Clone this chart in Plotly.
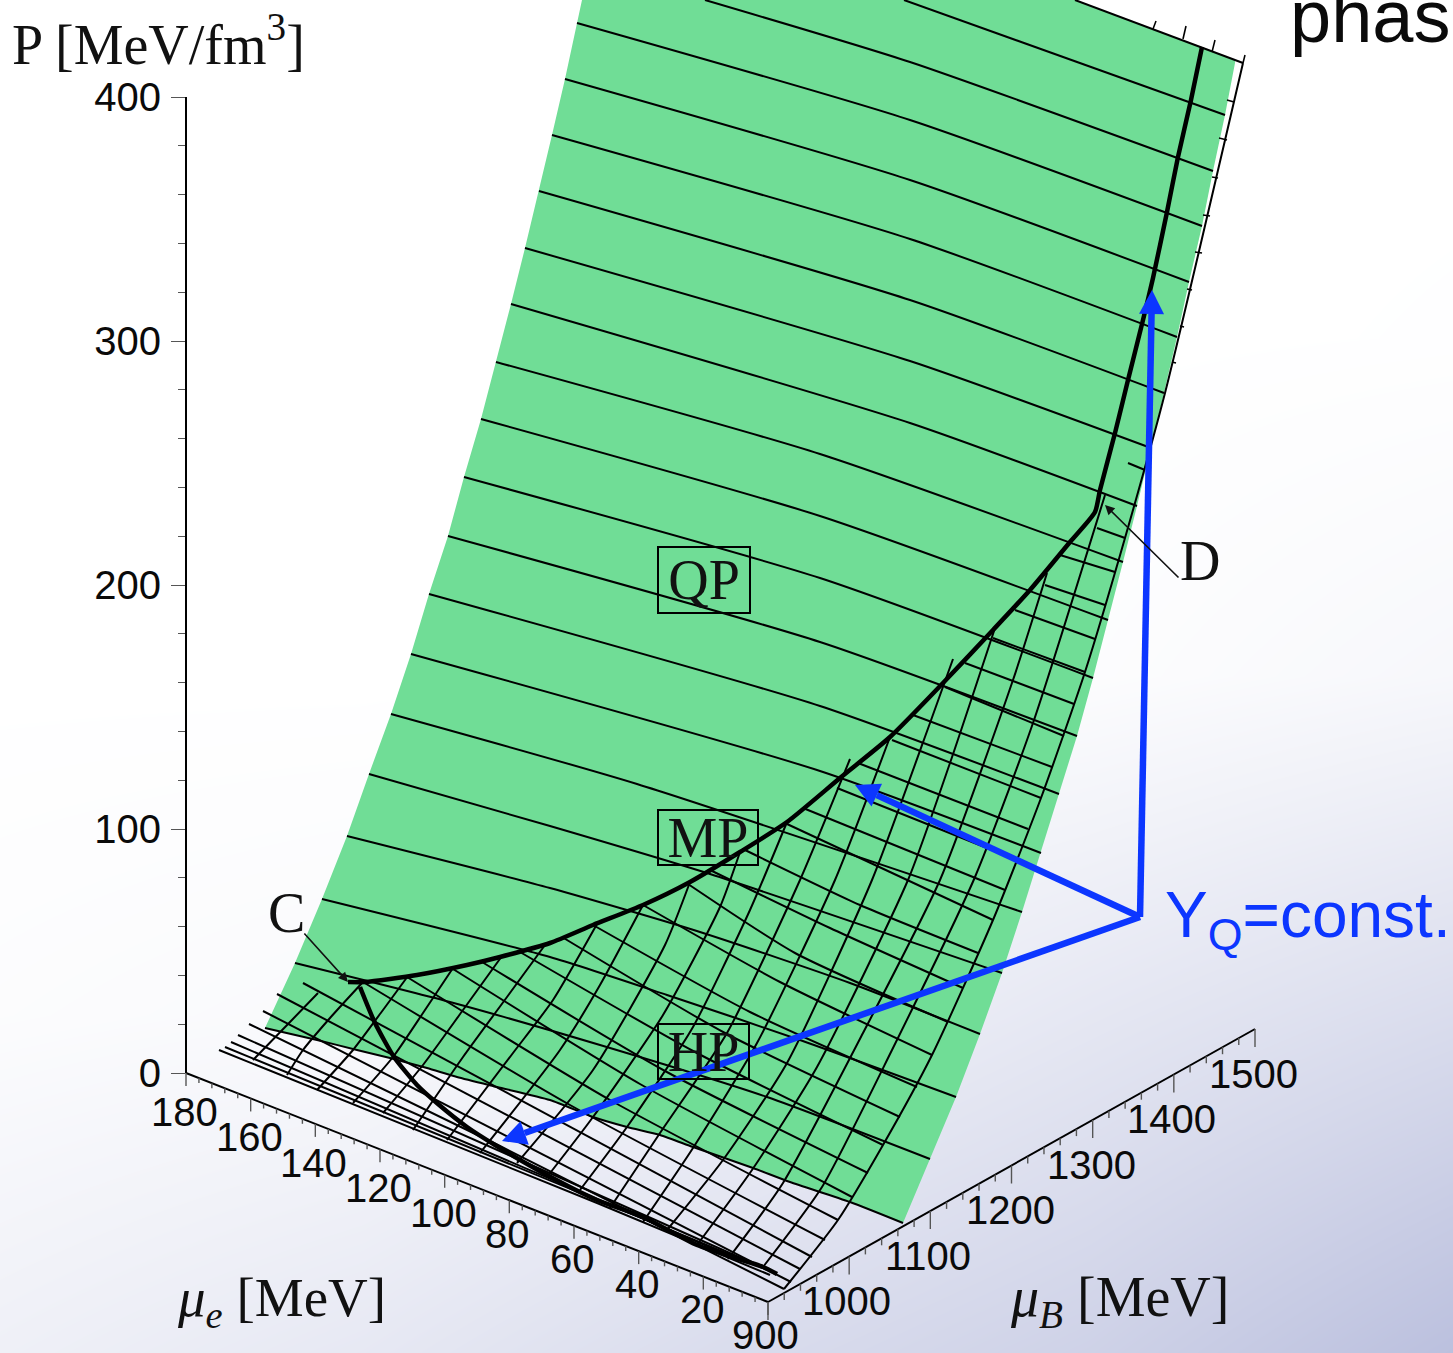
import math
import plotly.graph_objects as go

W, H = 1453, 1353
GREEN = "#70dd96"
BLUE = "#0c36ff"
SANS = "Liberation Sans"
SERIF = "Liberation Serif"

# ---- axis values ----
P_TICKS = [0, 100, 200, 300, 400]
P_MINOR = [20, 40, 60, 80, 120, 140, 160, 180, 220, 240, 260, 280, 320, 340, 360, 380]
MU_E_MAJOR = [180, 160, 140, 120, 100, 80, 60, 40, 20, 0]
MU_E_LABELS = {180: (184, 1112), 160: (249, 1137), 140: (313, 1163), 120: (378, 1188), 100: (443, 1213),
               80: (507, 1234), 60: (572, 1259), 40: (637, 1284), 20: (702, 1309)}
MU_E_MINOR = [v for v in range(4, 180, 4) if v % 20]
MU_B_MAJOR = [900, 1000, 1100, 1200, 1300, 1400, 1500]
MU_B_LABELS = {900: (765, 1335), 1000: (846, 1301), 1100: (928, 1256), 1200: (1010, 1210),
               1300: (1091, 1165), 1400: (1171, 1119), 1500: (1253, 1074)}
MU_B_MINOR = [v for v in range(920, 1500, 20) if v % 100]

# ---- surface outline ----
LEFT_EDGE = [(265, 1028), (295, 963), (322, 899), (347, 836), (369, 774), (391, 714), (411, 654), (429, 594),
             (448, 536), (464, 477), (481, 419), (496, 362), (511, 304), (525, 248), (539, 191), (552, 135),
             (565, 79), (577, 23), (582, 0)]
TOP_EDGE = [(1075, 0), (1235, 60)]
RIGHT_EDGE = [(1235, 63), (1225, 115), (1213, 171), (1202, 226), (1189, 282), (1177, 337), (1164, 393), (1151, 448),
              (1137, 506), (1123, 562), (1108, 620), (1093, 678), (1077, 736), (1059, 794), (1041, 853), (1022, 912),
              (1002, 973), (980, 1034), (956, 1097), (930, 1159), (903, 1223)]
LOWER_EDGE = [(903, 1223), (850, 1202), (790, 1182), (753, 1168), (693, 1147), (660, 1135), (627, 1127), (593, 1117),
              (550, 1100), (497, 1087), (457, 1077), (427, 1068), (390, 1058), (357, 1050), (317, 1040), (265, 1028)]

# ---- long isolines across the quark phase ----
QP_LINES = [
    [(904, 0), (1225, 115)],
    [(705, 0), (910, 62), (1213, 171)],
    [(577, 23), (910, 120), (1202, 226)],
    [(565, 79), (910, 180), (1189, 282)],
    [(552, 135), (910, 239), (1177, 337)],
    [(539, 191), (910, 300), (1164, 393)],
    [(525, 248), (910, 361), (1151, 448)],
    [(511, 304), (910, 423), (1137, 506)],
    [(496, 362), (820, 454), (1123, 562)],
    [(481, 419), (820, 516), (1108, 620)],
    [(464, 477), (820, 578), (1093, 678)],
    [(448, 536), (820, 642), (1077, 736)],
    [(429, 594), (820, 706), (1059, 794)],
    [(411, 654), (820, 771), (1041, 853)],
    [(391, 714), (637, 784), (1022, 912)],
    [(369, 774), (550, 826), (710, 874), (1002, 973)],
    [(347, 836), (550, 888), (700, 932), (850, 983), (980, 1034)],
    [(322, 899), (550, 957), (667, 995), (800, 1040), (956, 1097)],
    [(295, 963), (450, 1002), (600, 1045), (767, 1097), (930, 1159)],
    LOWER_EDGE[::-1],
]

# ---- mesh lines of the mixed / hadronic phase, running the same way ----
MESH_A = [
    [(1097, 528), (1125, 538)],
    [(1060, 555), (1115, 572)],
    [(1045, 585), (1105, 605)],
    [(1015, 610), (1095, 639)],
    [(993, 638), (1085, 672)],
    [(965, 663), (1074, 704)],
    [(945, 687), (1064, 736)],
    [(913, 715), (1052, 767)],
    [(892, 740), (1041, 798)],
    [(858, 763), (1028, 829)],
    [(837, 788), (1017, 860)],
    [(803, 808), (1005, 890)],
    [(787, 824), (993, 920)],
    [(745, 850), (860, 905), (978, 953)],
    [(710, 870), (830, 928), (963, 988)],
    [(688, 884), (795, 953), (948, 1022)],
    [(643, 905), (780, 982), (932, 1055)],
    [(593, 925), (750, 1012), (917, 1087)],
    [(562, 937), (725, 1033), (900, 1117)],
    [(520, 952), (695, 1052), (883, 1145)],
    [(482, 962), (665, 1071), (868, 1173)],
    [(453, 969), (640, 1084), (852, 1197)],
    [(407, 977), (610, 1100), (838, 1220)],
    [(363, 982), (570, 1105), (825, 1240)],
    [(303, 983), (812, 1257)],
    [(277, 994), (800, 1269)],
    [(263, 1011), (791, 1282)],
    [(249, 1024), (500, 1146), (784, 1289)],
    [(238, 1035), (750, 1262)],
    [(231, 1042), (735, 1258)],
    [(225, 1047), (775, 1273)],
    [(219, 1050), (597, 1203), (770, 1275)],
    [(1128, 463), (1145, 470)],
]

# ---- mesh lines crossing them ----
MESH_B = [
    [(1243, 63), (1165, 393), (1125, 538), (1085, 672), (1041, 798), (993, 920), (932, 1055), (883, 1145), (838, 1220), (784, 1289)],
    [(763, 1267), (822, 1187), (892, 1050), (975, 877), (1033, 723), (1105, 495)],
    [(728, 1259), (783, 1183), (863, 1033), (940, 880), (1013, 680), (1047, 573)],
    [(697, 1245), (752, 1170), (817, 1067), (908, 880), (950, 763), (995, 628)],
    [(667, 1230), (723, 1160), (787, 1063), (872, 880), (930, 723), (953, 659)],
    [(643, 1222), (693, 1148), (757, 1043), (835, 880), (890, 737)],
    [(610, 1208), (660, 1133), (727, 1033), (800, 880), (850, 759)],
    [(580, 1190), (627, 1127), (693, 1027), (750, 910), (787, 822)],
    [(547, 1177), (593, 1117), (663, 1015), (720, 907), (740, 852)],
    [(517, 1163), (593, 1070), (665, 945), (690, 882)],
    [(480, 1153), (560, 1050), (600, 985), (643, 905)],
    [(447, 1140), (513, 1053), (553, 1000), (597, 924)],
    [(413, 1130), (463, 1057), (507, 997), (545, 945)],
    [(383, 1113), (423, 1065), (463, 1010), (502, 956)],
    [(353, 1103), (393, 1057), (423, 1013), (453, 968)],
    [(317, 1090), (353, 1050), (383, 1010), (408, 976)],
    [(287, 1075), (303, 1050), (330, 1018), (362, 983)],
    [(253, 1060), (290, 1022), (318, 993)],
]

# ---- phase boundaries ----
BOUNDARY_UPPER = [(348, 982), (365, 982), (417, 975), (467, 965), (500, 957), (550, 943), (593, 925), (643, 905), (690, 882),
                  (740, 852), (787, 822), (840, 778), (890, 737), (943, 683), (993, 630), (1030, 590), (1070, 542),
                  (1095, 512), (1100, 490), (1115, 433), (1128, 380), (1143, 320), (1153, 278), (1167, 212), (1178, 157),
                  (1191, 100), (1202, 47)]
BOUNDARY_LOWER = [(360, 987), (375, 1023), (394, 1057), (417, 1085), (438, 1104), (467, 1127), (495, 1145), (547, 1175),
                  (597, 1200), (643, 1217), (697, 1245), (763, 1267), (777, 1274)]

# ---- short ticks on the far edges of the box ----
TOP_TICKS = [[(1156, 21), (1153, 29)], [(1186, 26), (1183, 39)], [(1215, 40), (1212, 52)], [(1245, 55), (1243, 63)]]
SIDE_TICKS = [[(1227, 100), (1234, 102)], [(1219, 138), (1227, 140)], [(1212, 177), (1218, 178)],
              [(1203, 215), (1210, 216)], [(1195, 252), (1202, 253)], [(1187, 289), (1192, 290)],
              [(1180, 326), (1184, 327)], [(1172, 362), (1176, 363)]]

# ---- gradient of the backdrop ----
BG_X = [0, 363, 726, 1090, 1453]
BG_Y = [0, 338, 676, 1015, 1353]
BG_SHADE = [[0, 0, 0, 0, 0],
            [0, 0, 0, 0, 0.01],
            [0, 0, 0.01, 0.04, 0.12],
            [0.05, 0.09, 0.2, 0.38, 0.55],
            [0.24, 0.36, 0.55, 0.72, 1.0]]

# ---- Y_Q = const. arrows ----
APEX = (1140, 917)
ARROW_TIPS = [(1152, 290), (855, 785), (502, 1141)]


def xs(line):
    return [p[0] for p in line]


def ys(line):
    return [p[1] for p in line]


def mu_e_pos(v):
    return 768 - 582 * v / 180, 1302 - 229 * v / 180


def mu_b_pos(v):
    return 768 + 487 * (v - 900) / 600, 1302 - 273 * (v - 900) / 600


fig = go.Figure()
fig.add_trace(go.Heatmap(x=BG_X, y=BG_Y, z=BG_SHADE, zmin=0, zmax=1, zsmooth="best", showscale=False,
                         colorscale=[[0, "rgb(255,255,255)"], [1, "rgb(187,192,222)"]], hoverinfo="skip"))

outline = LEFT_EDGE + TOP_EDGE + RIGHT_EDGE + LOWER_EDGE
fig.add_trace(go.Scatter(x=xs(outline), y=ys(outline), mode="lines", fill="toself", fillcolor=GREEN,
                         line=dict(width=0), hoverinfo="skip"))


def draw(line, width=2.0, shape="spline", color="black"):
    fig.add_trace(go.Scatter(x=xs(line), y=ys(line), mode="lines", hoverinfo="skip",
                             line=dict(color=color, width=width, shape=shape, smoothing=0.6)))


for ln in QP_LINES + MESH_A + MESH_B:
    draw(ln, 2.0)
draw([(1075, 0), (1243, 63)], 2.0, "linear")
for t in TOP_TICKS + SIDE_TICKS:
    draw(t, 1.6, "linear")
draw(BOUNDARY_UPPER, 4.5)
draw(BOUNDARY_LOWER, 4.5)

# slanted axes
for pos, major, minor, maj_len, min_len in [(mu_e_pos, MU_E_MAJOR, MU_E_MINOR, 13, 5), (mu_b_pos, MU_B_MAJOR, MU_B_MINOR, 18, 7)]:
    ends = [pos(major[0]), pos(major[-1])]
    draw(ends, 2.0, "linear")
    for v in major:
        px, py = pos(v)
        draw([(px, py), (px, py + maj_len)], 1.4, "linear", "#555555")
    for v in minor:
        px, py = pos(v)
        draw([(px, py), (px, py + min_len)], 1.4, "linear", "#555555")

# blue arrows: shaft plus a filled head
HEAD_LEN, HEAD_HALF = 24, 12.5
for tip in ARROW_TIPS:
    dx, dy = tip[0] - APEX[0], tip[1] - APEX[1]
    d = math.hypot(dx, dy)
    ux, uy = dx / d, dy / d
    bx, by = tip[0] - ux * HEAD_LEN, tip[1] - uy * HEAD_LEN
    draw([APEX, (bx, by)], 6.5, "linear", BLUE)
    head = [tip, (bx - uy * HEAD_HALF, by + ux * HEAD_HALF), (bx + uy * HEAD_HALF, by - ux * HEAD_HALF), tip]
    fig.add_trace(go.Scatter(x=xs(head), y=ys(head), mode="lines", fill="toself", fillcolor=BLUE,
                             line=dict(width=0), hoverinfo="skip"))

# pressure axis: a real axis
fig.add_trace(go.Scatter(x=[0], y=[0], xaxis="x", yaxis="y2", mode="markers", marker=dict(opacity=0), hoverinfo="skip"))

annots = []
for labels in (MU_E_LABELS, MU_B_LABELS):
    for v, (lx, ly) in labels.items():
        annots.append(dict(x=lx, y=ly, text=str(v), showarrow=False, xanchor="center", yanchor="middle",
                           font=dict(family=SANS, size=40, color="#0a0a0a")))


def txt(x, y, s, size, family=SERIF, color="#111111", **kw):
    annots.append(dict(x=x, y=y, text=s, showarrow=False, xanchor="center", yanchor="middle",
                       font=dict(family=family, size=size, color=color), **kw))


txt(158, 40, "P [MeV/fm<sup>3</sup>]", 56)
txt(281, 1301, "<i>μ<sub>e</sub></i> [MeV]", 55)
txt(1119, 1301, "<i>μ<sub>B</sub></i> [MeV]", 56)
txt(286, 913, "C", 56)
txt(1200, 561, "D", 56)
txt(1370, 16, "phas", 74, SANS, "#0a0a0a")
txt(1308, 919, "Y<sub>Q</sub>=const.", 64, SANS, BLUE)
for label, cx, cy, bw, bh in [("QP", 704, 580, 90, 64), ("MP", 708, 837, 98, 53), ("HP", 703, 1051, 89, 53)]:
    txt(cx, cy, label, 56, bordercolor="black", borderwidth=2, borderpad=0, width=bw, height=bh, align="center", valign="middle")

# label pointers
for tip, tail in [((348, 982), (303, 932)), ((1105, 505), (1180, 579))]:
    annots.append(dict(x=tip[0], y=tip[1], ax=tail[0], ay=tail[1], xref="x", yref="y", axref="x", ayref="y", text="",
                       showarrow=True, arrowhead=2, arrowsize=1.2, arrowwidth=1.6, arrowcolor="#111111"))

fig.update_layout(
    width=W, height=H, margin=dict(l=0, r=0, t=0, b=0), showlegend=False, autosize=False,
    paper_bgcolor="white", plot_bgcolor="rgba(0,0,0,0)", annotations=annots,
    xaxis=dict(visible=False, range=[0, W], domain=[0, 1], fixedrange=True, automargin=False),
    yaxis=dict(visible=False, range=[H, 0], domain=[0, 1], fixedrange=True, automargin=False),
    yaxis2=dict(domain=[(H - 1073) / H, (H - 97) / H], range=[0, 400], anchor="free", position=186 / W,
                side="left", showgrid=False, zeroline=False, showline=True, linecolor="black", linewidth=2,
                tickvals=P_TICKS, ticks="outside", ticklen=14, tickwidth=1.4, tickcolor="#555555",
                tickfont=dict(family=SANS, size=40, color="#0a0a0a"), ticklabelstandoff=2, automargin=False,
                minor=dict(tickvals=P_MINOR, ticks="outside", ticklen=7, tickwidth=1.4, tickcolor="#555555"),
                fixedrange=True),
)
fig.write_html("out.html", config={"displayModeBar": False}, post_script="document.body.style.margin='0';")
